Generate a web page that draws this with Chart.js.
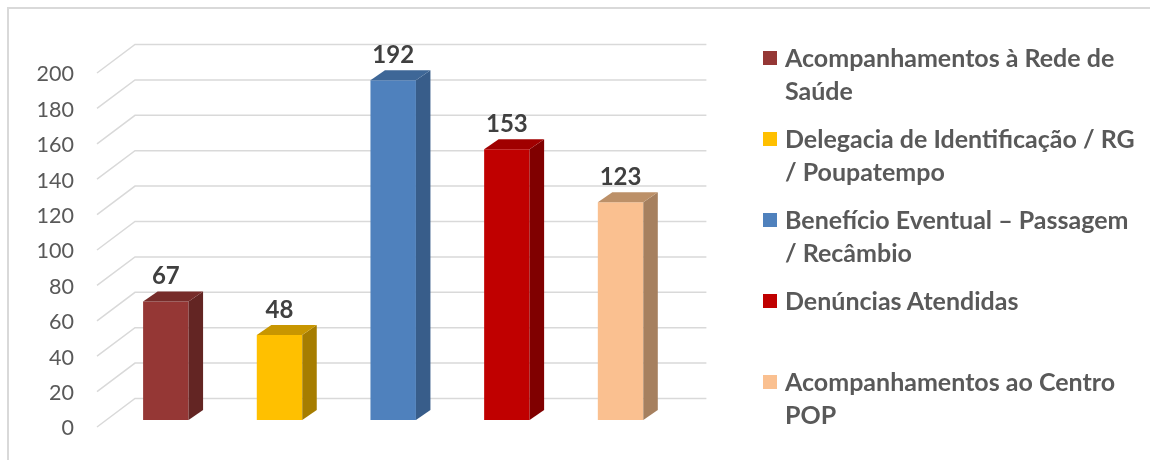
<!DOCTYPE html>
<html>
<head>
<meta charset="utf-8">
<script src="https://cdn.jsdelivr.net/npm/chart.js@4.4.1/dist/chart.umd.min.js"></script>
<style>
    html, body { margin: 0; padding: 0; background: #fff; overflow: hidden; }
    #wrap { position: relative; width: 1150px; height: 460px; overflow: hidden; }
    #frame { position: absolute; left: 7px; top: 7px; width: 1200px; height: 500px;
             border-left: 2px solid #d9d9d9; border-top: 2px solid #d9d9d9; }
    #chart { position: absolute; left: 0; top: 0; }
    #legend { position: absolute; left: 763px; top: 41px; font: bold 25px Lato, sans-serif; color: #595959; }
    .item { position: relative; height: 81px; padding-left: 22px; line-height: 33px; white-space: nowrap; }
    .sw { position: absolute; left: 0; top: 10px; width: 14px; height: 14px; }
</style>
</head>
<body>
<div id="wrap">
    <div id="frame"></div>
    <canvas id="chart" width="1150" height="460"></canvas>
    <div id="legend"></div>
</div>
<script>
(function() {
    'use strict';

    // data
    var categories = [
        ['Acompanhamentos à Rede de', 'Saúde'],
        ['Delegacia de Identificação / RG', '/ Poupatempo'],
        ['Benefício Eventual – Passagem', '/ Recâmbio'],
        ['Denúncias Atendidas'],
        ['Acompanhamentos ao Centro', 'POP']
    ];
    var values = [67, 48, 192, 153, 123];
    var yTicks = [0, 20, 40, 60, 80, 100, 120, 140, 160, 180, 200];

    // styles
    var frontColors = ['#953735', '#FFC000', '#4F81BD', '#C00000', '#FAC090'];
    var topColors   = ['#772C2A', '#C89600', '#3E6797', '#A00000', '#BC9068'];
    var sideColors  = ['#632523', '#A67D00', '#385D8A', '#800000', '#A6805F'];
    var depth = { dx: 14.5, dy: 10 };
    var wallShift = 21.5;

    var threeD = {
        id: 'threeD',
        beforeDatasetsDraw: function(chart) {
            var ctx = chart.ctx, y = chart.scales.y, area = chart.chartArea;
            ctx.save();
            ctx.strokeStyle = '#d9d9d9';
            ctx.lineWidth = 1.5;
            y.ticks.forEach(function(t) {
                var yf = y.getPixelForValue(t.value), yb = yf - wallShift;
                ctx.beginPath();
                ctx.moveTo(area.left - 12, yf + 7);
                ctx.lineTo(area.left + 26, yb);
                ctx.lineTo(area.right + 29, yb);
                ctx.stroke();
            });
            ctx.restore();
        },
        afterDatasetsDraw: function(chart) {
            var ctx = chart.ctx;
            var meta = chart.getDatasetMeta(0);
            ctx.save();
            meta.data.forEach(function(bar, i) {
                var l = bar.x - bar.width / 2, r = bar.x + bar.width / 2;
                var t = bar.y, b = bar.base;
                ctx.fillStyle = sideColors[i];
                ctx.beginPath();
                ctx.moveTo(r, t); ctx.lineTo(r + depth.dx, t - depth.dy);
                ctx.lineTo(r + depth.dx, b - depth.dy); ctx.lineTo(r, b);
                ctx.closePath(); ctx.fill();
                ctx.fillStyle = topColors[i];
                ctx.beginPath();
                ctx.moveTo(l, t); ctx.lineTo(l + depth.dx, t - depth.dy);
                ctx.lineTo(r + depth.dx, t - depth.dy); ctx.lineTo(r, t);
                ctx.closePath(); ctx.fill();

                ctx.fillStyle = '#404040';
                ctx.font = 'bold 24px Lato, sans-serif';
                ctx.textAlign = 'center';
                ctx.textBaseline = 'middle';
                ctx.fillText(String(values[i]), bar.x, t - depth.dy - 15);
            });
            ctx.restore();
        }
    };

    new Chart(document.getElementById('chart').getContext('2d'), {
        type: 'bar',
        data: {
            labels: categories,
            datasets: [{
                label: 'Atendimentos',
                data: values,
                backgroundColor: frontColors,
                borderWidth: 0,
                categoryPercentage: 1,
                barPercentage: 0.4
            }]
        },
        options: {
            responsive: false,
            animation: false,
            layout: { padding: { left: 0, top: 66, right: 472.6, bottom: 40 } },
            plugins: { legend: { display: false }, tooltip: { enabled: false } },
            scales: {
                x: { display: false },
                y: {
                    min: 0,
                    max: 200,
                    afterBuildTicks: function(s) { s.ticks = yTicks.map(function(v) { return { value: v }; }); },
                    afterFit: function(s) { s.width = 109; s.paddingTop = 0; s.paddingBottom = 0; },
                    grid: { display: false, drawTicks: false },
                    border: { display: false },
                    ticks: {
                        padding: 35,
                        labelOffset: 8.5,
                        color: '#595959',
                        font: { family: 'Lato', size: 21.5 }
                    }
                }
            }
        },
        plugins: [threeD]
    });

    var legend = document.getElementById('legend');
    categories.forEach(function(lines, i) {
        var item = document.createElement('div');
        item.className = 'item';
        var sw = document.createElement('span');
        sw.className = 'sw';
        sw.style.background = frontColors[i];
        item.appendChild(sw);
        lines.forEach(function(line) {
            var d = document.createElement('div');
            d.textContent = line;
            item.appendChild(d);
        });
        legend.appendChild(item);
    });
})();
</script>
</body>
</html>
